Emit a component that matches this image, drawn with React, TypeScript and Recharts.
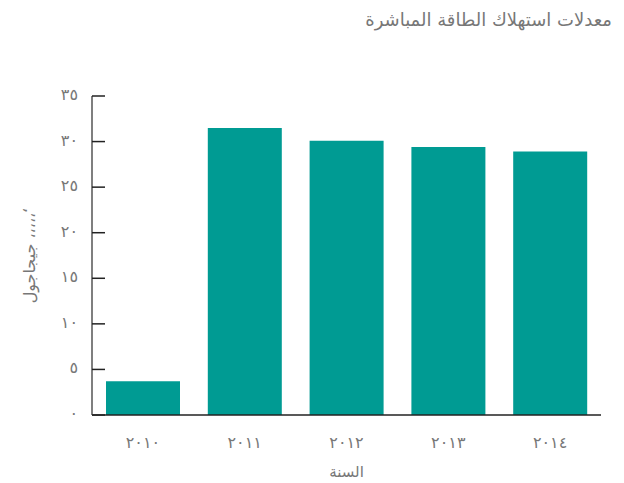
import React from 'react';
import { BarChart, Bar, XAxis, YAxis, Label } from 'recharts';

const years = ['٢٠١٠', '٢٠١١', '٢٠١٢', '٢٠١٣', '٢٠١٤'];
const consumption = [3.7, 31.5, 30.1, 29.4, 28.9];
const yTicks = [0, 5, 10, 15, 20, 25, 30, 35];
const yTickLabels = ['٠', '٥', '١٠', '١٥', '٢٠', '٢٥', '٣٠', '٣٥'];

const title = 'معدلات استهلاك الطاقة المباشرة';
const xTitle = 'السنة';
const yTitle = 'جيجاجول ،،،،،‘';

const data = years.map((y, i) => ({ year: y, value: consumption[i] }));

const FONT = '"DejaVu Sans", sans-serif';
const TEXT = '#777';

const YTick = (props: any) => {
  const { x, y, payload } = props;
  const idx = yTicks.indexOf(payload.value);
  return (
    <g>
      <line x1={x} x2={x + 13} y1={y} y2={y} stroke="#222" strokeWidth={1.5} />
      <text x={x - 14} y={y} dy={4} textAnchor="end" fill={TEXT} fontSize={16} fontFamily={FONT}>
        {yTickLabels[idx]}
      </text>
    </g>
  );
};

export default function App() {
  return (
    <div style={{ position: 'absolute', left: 0, top: 0, width: 624, height: 483, background: '#fff' }}>
      <div
        dir="rtl"
        style={{
          position: 'absolute',
          right: 12,
          top: 9,
          fontFamily: FONT,
          fontSize: 18,
          color: TEXT,
          whiteSpace: 'nowrap'
        }}
      >
        {title}
      </div>
      <BarChart
        width={624}
        height={483}
        data={data}
        margin={{ top: 96, right: 23, bottom: 28, left: 0 }}
        barCategoryGap={14}
      >
        <XAxis
          dataKey="year"
          tickLine={false}
          tickMargin={16}
          axisLine={{ stroke: '#222', strokeWidth: 1.5 }}
          tick={{ fill: TEXT, fontSize: 16, fontFamily: FONT }}
          height={40}
        >
          <Label
            content={(p: any) => (
              <text
                x={p.viewBox.x + p.viewBox.width / 2}
                y={p.viewBox.y + 62}
                textAnchor="middle"
                fill={TEXT}
                fontSize={15}
                fontFamily={FONT}
              >
                {xTitle}
              </text>
            )}
          />
        </XAxis>
        <YAxis
          width={92}
          domain={[0, 35]}
          ticks={yTicks}
          tickSize={0}
          tickMargin={0}
          tickLine={false}
          axisLine={{ stroke: '#555', strokeWidth: 1.5 }}
          tick={<YTick />}
        >
          <Label
            content={(p: any) => {
              const cy = p.viewBox.y + p.viewBox.height / 2;
              return (
                <text
                  x={30}
                  y={cy}
                  transform={`rotate(-90, 30, ${cy})`}
                  textAnchor="middle"
                  dy={5}
                  fill={TEXT}
                  fontSize={16}
                  fontFamily={FONT}
                >
                  {yTitle}
                </text>
              );
            }}
          />
        </YAxis>
        <Bar dataKey="value" fill="#009B93" isAnimationActive={false} />
      </BarChart>
    </div>
  );
}
